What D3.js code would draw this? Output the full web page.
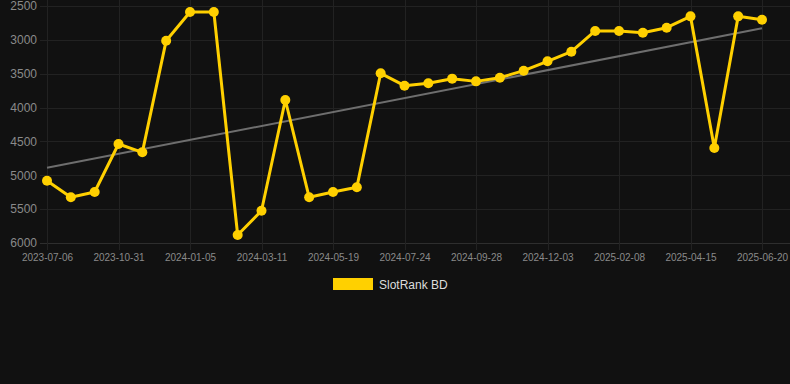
<!DOCTYPE html>
<html>
<head>
<meta charset="utf-8">
<script src="https://cdn.jsdelivr.net/npm/d3@7"></script>
<style>
  html, body { margin: 0; padding: 0; background: #111111; }
  svg { display: block; font-family: "Liberation Sans", Arial, sans-serif; }
</style>
</head>
<body>
<div id="chart"></div>
<script>
const w = 790
const h = 384

// ranks, one per observation (lower is better, axis is reversed)
const ranks = [5080, 5325, 5247, 4538, 4661, 3012, 2589, 2589, 5882, 5523, 3888,
    5325, 5247, 5178, 3494, 3677, 3642, 3573, 3613, 3559, 3455, 3317, 3175,
    2869, 2869, 2894, 2820, 2653, 4597, 2653, 2702]

// dates shown on the x axis, every third observation
const tickLabels = ['2023-07-06', '2023-10-31', '2024-01-05', '2024-03-11', '2024-05-19',
    '2024-07-24', '2024-09-28', '2024-12-03', '2025-02-08', '2025-04-15', '2025-06-20']
const tickEvery = 3

const yTicks = [2500, 3000, 3500, 4000, 4500, 5000, 5500, 6000]
const seriesName = 'SlotRank BD'

const svg = d3.select('#chart')
    .append('svg')
    .attr('width', w)
    .attr('height', h)

const xScale = d3.scaleLinear()
    .domain([0, ranks.length - 1])
    .range([47, 762])

const yScale = d3.scaleLinear()
    .domain([2500, 6000])
    .range([6, 243])

const tickIdx = tickLabels.map((d, i) => i * tickEvery)

// grid
svg.append('g')
    .selectAll('line')
    .data(yTicks)
    .enter()
    .append('line')
    .attr('x1', 40)
    .attr('x2', w)
    .attr('y1', d => Math.round(yScale(d)) + 0.5)
    .attr('y2', d => Math.round(yScale(d)) + 0.5)
    .attr('stroke', d => d === 6000 ? '#2e2e2e' : '#222222')

svg.append('g')
    .selectAll('line')
    .data(tickIdx)
    .enter()
    .append('line')
    .attr('x1', d => Math.round(xScale(d)) + 0.5)
    .attr('x2', d => Math.round(xScale(d)) + 0.5)
    .attr('y1', 0)
    .attr('y2', 250)
    .attr('stroke', '#222222')

// axes
const yAxis = d3.axisLeft(yScale)
    .tickValues(yTicks)
    .tickFormat(d3.format('d'))
    .tickSize(0)
    .tickPadding(0)

svg.append('g')
    .attr('transform', 'translate(37, 0)')
    .call(yAxis)
    .call(g => g.select('.domain').remove())
    .call(g => g.selectAll('text')
        .attr('fill', '#8a8a8a')
        .style('font-size', '12px')
        .style('font-family', '"Liberation Sans", Arial, sans-serif'))

const xAxis = d3.axisBottom(xScale)
    .tickValues(tickIdx)
    .tickFormat((d, i) => tickLabels[i])
    .tickSize(0)
    .tickPadding(0)

svg.append('g')
    .attr('transform', 'translate(0, 254)')
    .call(xAxis)
    .call(g => g.select('.domain').remove())
    .call(g => g.selectAll('text')
        .attr('fill', '#8a8a8a')
        .style('font-size', '10px')
        .style('font-family', '"Liberation Sans", Arial, sans-serif'))

// trend line, least squares over the observations
const n = ranks.length
const mx = d3.mean(ranks, (d, i) => i)
const my = d3.mean(ranks)
const slope = d3.sum(ranks, (d, i) => (i - mx) * (d - my)) / d3.sum(ranks, (d, i) => (i - mx) * (i - mx))
const icpt = my - slope * mx

svg.append('line')
    .attr('x1', xScale(0))
    .attr('y1', yScale(icpt))
    .attr('x2', xScale(n - 1))
    .attr('y2', yScale(icpt + slope * (n - 1)))
    .attr('stroke', '#6e6e6e')
    .attr('stroke-width', 2)

// series
const line = d3.line()
    .x((d, i) => xScale(i))
    .y(d => yScale(d))

svg.append('path')
    .datum(ranks)
    .attr('d', line)
    .attr('fill', 'none')
    .attr('stroke', '#ffd000')
    .attr('stroke-width', 3)
    .attr('stroke-linejoin', 'round')

svg.append('g')
    .selectAll('circle')
    .data(ranks)
    .enter()
    .append('circle')
    .attr('cx', (d, i) => xScale(i))
    .attr('cy', d => yScale(d))
    .attr('r', 5)
    .attr('fill', '#ffd000')

// legend
const legend = svg.append('g')
    .attr('transform', 'translate(333, 278)')

legend.append('rect')
    .attr('width', 40)
    .attr('height', 12)
    .attr('fill', '#ffd000')

legend.append('text')
    .attr('x', 46)
    .attr('y', 7)
    .attr('dy', '0.35em')
    .attr('fill', '#dddddd')
    .style('font-size', '12px')
    .text(seriesName)
</script>
</body>
</html>
